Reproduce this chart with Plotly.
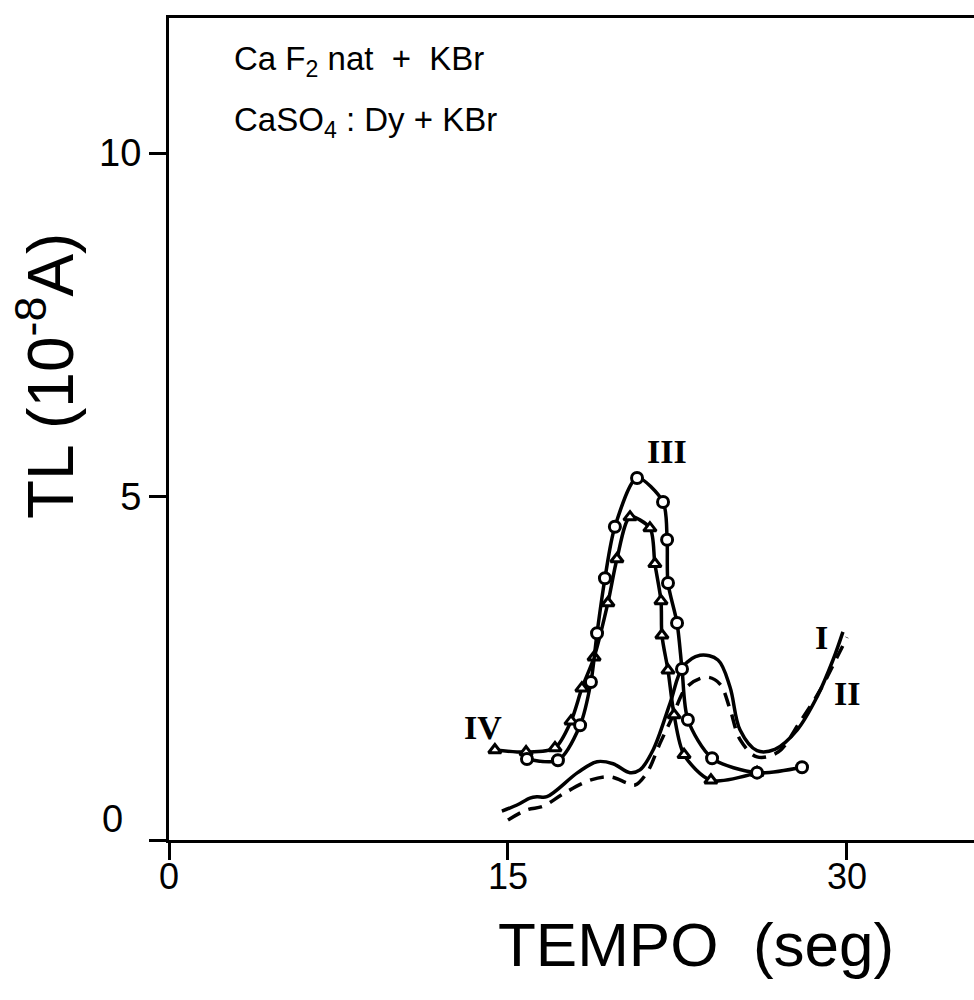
import plotly.graph_objects as go

# ---- data ----
# Curve III (open circles)
c3_x = [15.84, 17.21, 18.19, 18.67, 18.94, 19.29, 19.73, 20.71, 21.86, 22.04, 22.08, 22.48, 22.70, 22.96, 24.03, 26.02, 28.01]
c3_y = [1.18, 1.16, 1.67, 2.30, 3.01, 3.81, 4.56, 5.27, 4.92, 4.37, 3.74, 3.16, 2.49, 1.75, 1.19, 0.98, 1.06]

# Curve IV (open triangles)
c4_x = [14.42, 15.80, 17.08, 17.79, 18.27, 18.81, 19.42, 19.82, 20.40, 21.28, 21.50, 21.77, 21.81, 22.08, 22.35, 22.79, 23.98, 26.02]
c4_y = [1.31, 1.28, 1.34, 1.73, 2.21, 2.66, 3.45, 4.09, 4.70, 4.54, 4.02, 3.48, 2.98, 2.47, 1.82, 1.24, 0.87, 0.98]

# Curve I (solid, no markers)
c1_x = [14.73, 15.40, 15.97, 16.28, 16.72, 18.08, 18.94, 19.65, 20.40, 20.84, 21.42, 22.17, 22.74, 23.50, 24.29, 24.82, 25.27, 26.02, 26.81, 27.79, 28.67, 29.38, 29.82]
c1_y = [0.42, 0.51, 0.61, 0.63, 0.63, 0.98, 1.14, 1.11, 0.98, 1.02, 1.31, 1.99, 2.52, 2.69, 2.62, 2.23, 1.60, 1.30, 1.32, 1.60, 2.08, 2.62, 3.03]

# Curve II (dashed, no markers)
c2_x = [15.00, 15.84, 16.55, 17.43, 18.63, 19.51, 20.27, 20.62, 21.15, 21.73, 22.26, 22.92, 23.81, 24.38, 24.82, 25.27, 26.02, 26.95, 27.92, 28.81, 29.56, 30.00]
c2_y = [0.29, 0.44, 0.49, 0.67, 0.87, 0.92, 0.83, 0.80, 0.98, 1.41, 1.78, 2.23, 2.37, 2.27, 1.91, 1.46, 1.21, 1.28, 1.72, 2.18, 2.66, 2.95]

x_ticks = [0, 15, 30]
x_tick_labels = ["0", "15", "30"]
y_ticks = [0, 5, 10]
y_tick_labels = ["0", "5", "10"]

curve_labels = ["III", "IV", "I", "II"]
label_pos_x = [22.04, 13.89, 28.89, 30.0]
label_pos_y = [5.65, 1.64, 2.95, 2.13]

# ---- figure ----
FONT = "Liberation Sans"
fig = go.Figure()

fig.add_trace(go.Scatter(x=c1_x, y=c1_y, mode="lines",
                         line=dict(color="black", width=3.5, shape="spline", smoothing=1.0)))
fig.add_trace(go.Scatter(x=c2_x, y=c2_y, mode="lines",
                         line=dict(color="black", width=3.5, shape="spline", smoothing=1.0, dash="14px,9px")))
fig.add_trace(go.Scatter(x=c4_x, y=c4_y, mode="lines+markers",
                         line=dict(color="black", width=3.5, shape="spline", smoothing=0.8),
                         marker=dict(symbol="triangle-up", size=11, color="white",
                                     line=dict(color="black", width=3))))
fig.add_trace(go.Scatter(x=c3_x, y=c3_y, mode="lines+markers",
                         line=dict(color="black", width=3.5, shape="spline", smoothing=0.8),
                         marker=dict(symbol="circle", size=11, color="white",
                                     line=dict(color="black", width=3))))

annotations = []
for t, ax_, ay_ in zip(curve_labels, label_pos_x, label_pos_y):
    annotations.append(dict(x=ax_, y=ay_, xref="x", yref="y", text="<b>" + t + "</b>", showarrow=False,
                            font=dict(family="Liberation Serif", size=34, color="black"),
                            xanchor="center", yanchor="middle"))

annotations += [
    dict(x=2.79, y=11.34, xref="x", yref="y", xanchor="left", yanchor="middle", showarrow=False,
         text="Ca F<sub>2</sub> nat  +  KBr", font=dict(family=FONT, size=33, color="black")),
    dict(x=2.79, y=10.45, xref="x", yref="y", xanchor="left", yanchor="middle", showarrow=False,
         text="CaSO<sub>4</sub> : Dy + KBr", font=dict(family=FONT, size=33, color="black")),
    dict(x=0.6547, y=-0.127, xref="paper", yref="paper", xanchor="center", yanchor="middle",
         showarrow=False, text="TEMPO  (seg)", font=dict(family=FONT, size=62, color="black")),
    dict(x=-0.152, y=0.564, xref="paper", yref="paper", xanchor="center", yanchor="middle",
         showarrow=False, textangle=-90, text="TL (10<sup>-8</sup>A)",
         font=dict(family=FONT, size=64, color="black")),
    dict(x=-0.055, y=0.3, xref="paper", yref="y", xanchor="right", yanchor="middle",
         showarrow=False, text=y_tick_labels[0], font=dict(family=FONT, size=38, color="black")),
]

fig.update_layout(
    width=974, height=1000,
    margin=dict(l=169, r=0, t=18, b=160),
    paper_bgcolor="white", plot_bgcolor="white",
    showlegend=False,
    annotations=annotations,
    font=dict(family=FONT, color="black"),
)
fig.update_xaxes(range=[0, 35.62], showgrid=False, zeroline=False,
                 showline=True, linecolor="black", linewidth=3, mirror=True,
                 ticks="outside", ticklen=17, tickwidth=3, tickcolor="black",
                 tickvals=x_ticks, ticktext=x_tick_labels, ticklabelstandoff=-14,
                 tickfont=dict(family=FONT, size=36, color="black"))
fig.update_yaxes(range=[0, 11.965], showgrid=False, zeroline=False,
                 showline=True, linecolor="black", linewidth=3, mirror=False,
                 ticks="outside", ticklen=17, tickwidth=3, tickcolor="black",
                 tickvals=y_ticks, ticktext=[""] + y_tick_labels[1:],
                 tickfont=dict(family=FONT, size=38, color="black"))

fig.write_html("out.html")
